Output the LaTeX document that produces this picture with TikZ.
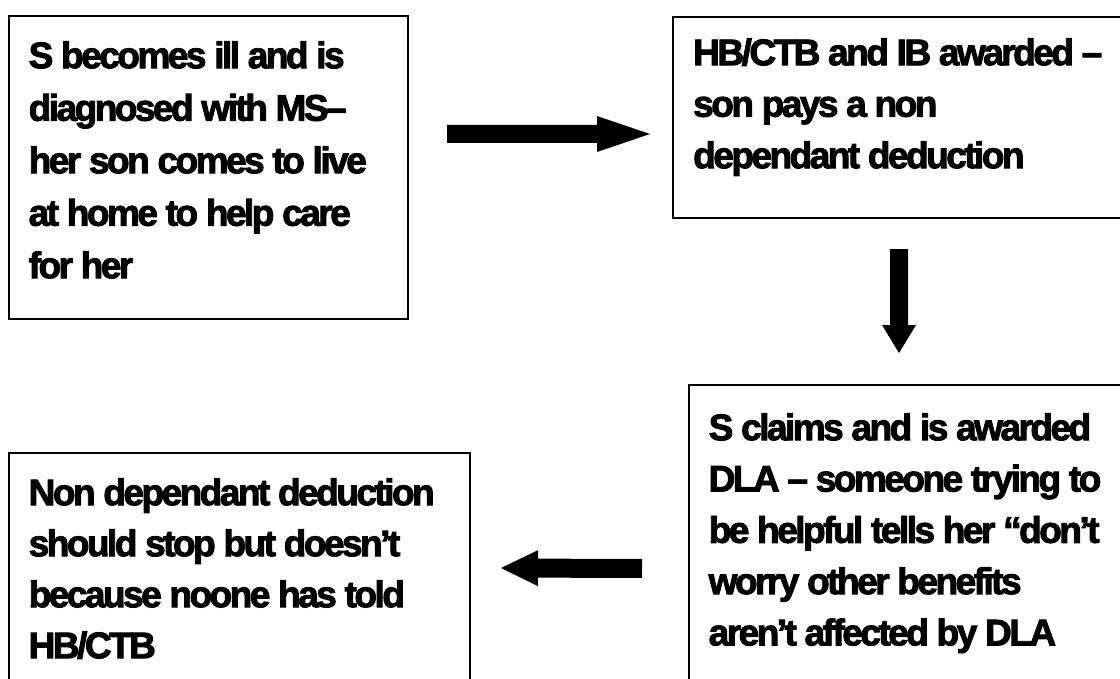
\documentclass[tikz,border=0pt]{standalone}
\usepackage{fontspec}
\newfontfamily\boxfont{Liberation Sans}[LetterSpace=-6.8, FakeBold=2.5]
\usetikzlibrary{calc}

% Block arrow from tail #1 to tip #2: shaft half-width #3, head half-width #4, head length #5
\newcommand\flowarrow[5]{%
  \coordinate (hb) at ($(#2)!#5!(#1)$);
  \fill[black]
    ($(#1)!#3!90:(#2)$) -- ($(hb)!#3!-90:(#1)$) -- ($(hb)!#4!-90:(#1)$) --
    (#2) --
    ($(hb)!#4!90:(#1)$) -- ($(hb)!#3!90:(#1)$) -- ($(#1)!#3!-90:(#2)$) -- cycle;
}

\begin{document}
\begin{tikzpicture}[x=1bp, y=-1bp,
  box/.style={draw=black, line width=2bp, rectangle, anchor=north west,
              inner sep=0pt, fill=white},
  txt/.style={anchor=north west, inner sep=0pt, align=left,
              font=\boxfont\bfseries\fontsize{37bp}{#1}\selectfont}]

  \useasboundingbox (0,0) rectangle (1120,679);
  \clip (0,0) rectangle (1120,679);
  \fill[white] (0,0) rectangle (1120,679);

  % boxes
  \node[box, minimum width=399bp, minimum height=303bp] (b1) at (8,15) {};
  \node[box, minimum width=458bp, minimum height=201bp] (b2) at (672,16) {};
  \node[box, minimum width=450bp, minimum height=330bp] (b3) at (688,384) {};
  \node[box, minimum width=461bp, minimum height=260bp] (b4) at (8,452) {};

  % texts
  \node[txt=52.5bp] (t1) at (28.5,28) {\rule{0pt}{40bp}S becomes ill and is\\
    diagnosed with MS–\\ her son comes to live\\ at home to help care\\ for her};
  \node[txt=51.5bp] (t2) at (693,25) {\rule{0pt}{40bp}HB/CTB and IB awarded –\\
    son pays a non\\ dependant deduction};
  \node[txt=51.3bp] (t3) at (708.5,400) {\rule{0pt}{40bp}S claims and is awarded\\
    DLA – someone trying to\\ be helpful tells her “don’t\\ worry other benefits\\
    aren’t affected by DLA};
  \node[txt=51bp] (t4) at (28.5,465) {\rule{0pt}{40bp}Non dependant deduction\\
    should stop but doesn’t\\ because noone has told\\ HB/CTB};

  % arrow end points
  \coordinate (a1s) at ($(b1.north east)+(38,119)$);
  \coordinate (a1e) at ($(b2.north west)+(-22,118)$);
  \coordinate (a2s) at (899,249);
  \coordinate (a2e) at (899,353);
  \coordinate (a3s) at ($(b3.north west)+(-46,184.5)$);
  \coordinate (a3e) at ($(b4.north east)+(30,116)$);

  \flowarrow{a1s}{a1e}{9bp}{18bp}{53bp}
  \flowarrow{a2s}{a2e}{9bp}{17bp}{28bp}
  \flowarrow{a3s}{a3e}{9.5bp}{18bp}{37bp}
\end{tikzpicture}
\end{document}
